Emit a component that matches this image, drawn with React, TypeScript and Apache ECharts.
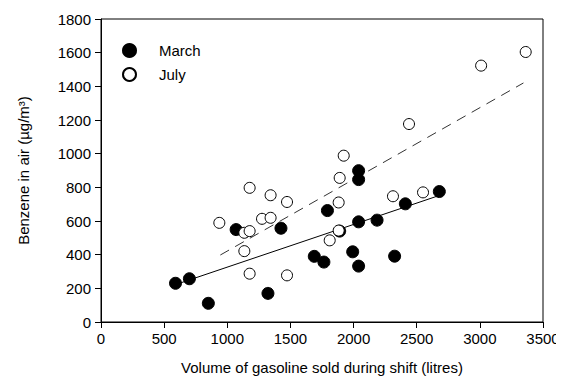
import React, { useEffect, useRef } from "react";
import * as echarts from "echarts";

const marchX = [590, 700, 850, 1070, 1322, 1425, 1689, 1765, 1793, 1890, 1993, 2040, 2040, 2040, 2040, 2186, 2325, 2410, 2679];
const marchY = [230, 257, 111, 549, 170, 557, 390, 356, 662, 540, 417, 899, 846, 595, 332, 605, 391, 702, 775];

const julyX = [937, 1135, 1135, 1177, 1177, 1177, 1275, 1343, 1343, 1473, 1473, 1811, 1882, 1882, 1890, 1922, 2312, 2439, 2550, 3010, 3363];
const julyY = [589, 530, 421, 797, 540, 287, 613, 753, 619, 713, 277, 485, 543, 710, 856, 988, 747, 1176, 770, 1523, 1604];

const marchFitX = [590, 2680];
const marchFitY = [222, 752];
const julyFitX = [945, 3345];
const julyFitY = [398, 1420];

const xTicks = [0, 500, 1000, 1500, 2000, 2500, 3000, 3500];
const yTicks = [0, 200, 400, 600, 800, 1000, 1200, 1400, 1600, 1800];

const zip = (a: number[], b: number[]) => a.map((v, i) => [v, b[i]]);

export default function App() {
  const ref = useRef<HTMLDivElement>(null);
  useEffect(() => {
    const chart = echarts.init(ref.current!, null, { renderer: "svg" });
    const font = "Liberation Sans, Arial, sans-serif";
    chart.setOption({
      animation: false,
      backgroundColor: "#fff",
      textStyle: { fontFamily: font },
      grid: {
        left: 93, right: 21, top: 11, bottom: 60,
        show: true, borderColor: "#000", borderWidth: 1,
        containLabel: false, outerBoundsMode: "none",
      },
      legend: {
        orient: "vertical",
        left: 114,
        top: 35,
        padding: 0,
        itemWidth: 13,
        itemHeight: 13,
        itemGap: 9,
        textStyle: { fontSize: 15, color: "#000", fontFamily: font, padding: [0, 0, 0, 18] },
        data: [
          { name: "March", icon: "circle" },
          { name: "July", icon: "circle" },
        ],
      },
      xAxis: {
        type: "value",
        min: xTicks[0],
        max: xTicks[xTicks.length - 1],
        interval: 500,
        name: "Volume of gasoline sold during shift (litres)",
        nameLocation: "middle",
        nameGap: 38,
        nameTextStyle: { fontSize: 15, color: "#000", fontFamily: font },
        axisLine: { show: true, lineStyle: { color: "#000", width: 1 } },
        axisTick: { show: true, inside: false, length: 6, lineStyle: { color: "#000" } },
        axisLabel: { fontSize: 15, color: "#000", margin: 9, fontFamily: font, formatter: (v: number) => String(v) },
        splitLine: { show: false },
      },
      yAxis: {
        type: "value",
        min: yTicks[0],
        max: yTicks[yTicks.length - 1],
        interval: 200,
        name: "Benzene in air (µg/m³)",
        nameLocation: "middle",
        nameGap: 70,
        nameRotate: 90,
        nameTextStyle: { fontSize: 15, color: "#000", fontFamily: font },
        axisLine: { show: true, lineStyle: { color: "#000", width: 1 } },
        axisTick: { show: true, inside: false, length: 6, lineStyle: { color: "#000" } },
        axisLabel: { fontSize: 15, color: "#000", margin: 10, fontFamily: font, formatter: (v: number) => String(v) },
        splitLine: { show: false },
      },
      series: [
        {
          name: "July fit",
          type: "line",
          data: zip(julyFitX, julyFitY),
          symbol: "none",
          lineStyle: { color: "#333", width: 1, type: [10, 7] },
          silent: true,
          z: 1,
        },
        {
          name: "March fit",
          type: "line",
          data: zip(marchFitX, marchFitY),
          symbol: "none",
          lineStyle: { color: "#000", width: 1 },
          silent: true,
          z: 1,
        },
        {
          name: "March",
          type: "scatter",
          data: zip(marchX, marchY),
          symbol: "circle",
          symbolSize: 12,
          itemStyle: { color: "#000", borderColor: "#000", borderWidth: 1, opacity: 1 },
          z: 2,
        },
        {
          name: "July",
          type: "scatter",
          data: zip(julyX, julyY),
          symbol: "circle",
          symbolSize: 11,
          itemStyle: { color: "#fff", borderColor: "#000", borderWidth: 1, opacity: 1 },
          z: 3,
        },
      ],
    });
    return () => chart.dispose();
  }, []);
  return <div ref={ref} style={{ width: 556, height: 374 }} />;
}
